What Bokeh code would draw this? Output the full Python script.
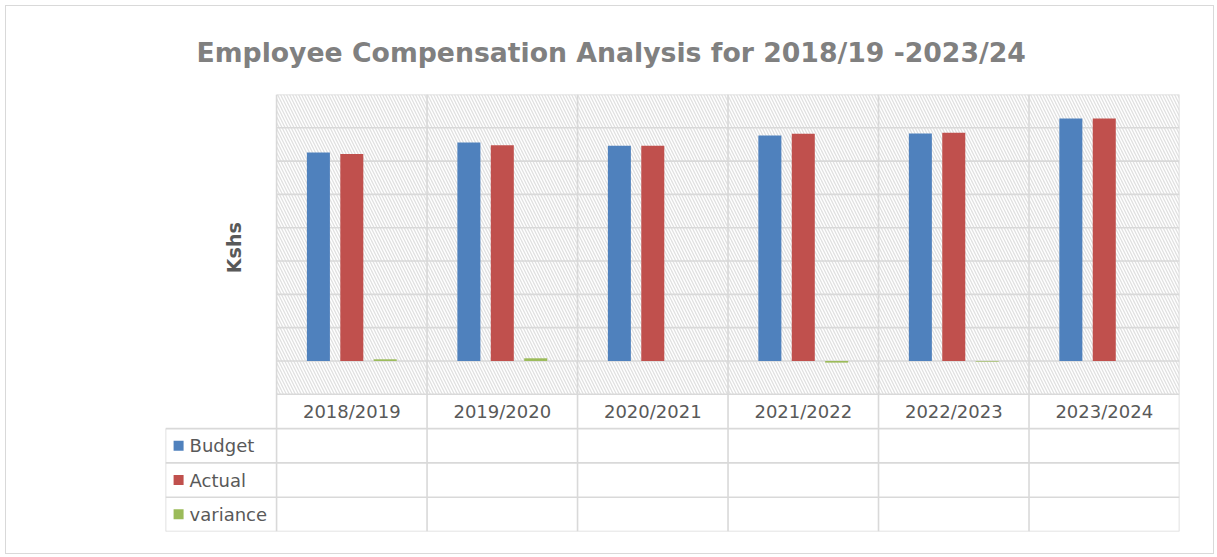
import math
from bokeh.plotting import figure
from bokeh.models import ColumnDataSource, Range1d
from bokeh.transform import dodge
from bokeh.core.properties import value
from bokeh.embed import file_html
from bokeh.resources import INLINE

# ---- data (Kshs, billions) ----
years = ["2018/2019", "2019/2020", "2020/2021", "2021/2022", "2022/2023", "2023/2024"]
budget = [6.26, 6.56, 6.46, 6.77, 6.83, 7.28]
actual = [6.21, 6.48, 6.46, 6.82, 6.85, 7.28]
variance = [0.05, 0.08, 0.0, -0.05, -0.02, 0.0]
series_names = ["Budget", "Actual", "variance"]
series_colors = ["#4F81BD", "#C0504D", "#9BBB59"]
grid_values = list(range(-1, 9))

# ---- layout parameters ----
y_min, y_max = -1, 8
row_h = 1.03
n_rows = 1 + len(series_names)
table_bottom = y_min - n_rows * row_h
legend_w = 0.738
n = len(years)
GRID = "#d9d9d9"
TXT = "#595959"

W, H = 1209, 549
p = figure(width=W, height=H,
           x_range=Range1d(-legend_w, n), y_range=Range1d(table_bottom, y_max),
           output_backend="svg", toolbar_location=None,
           min_border_left=159, min_border_right=36, min_border_top=88, min_border_bottom=24)
p.xaxis.visible = False
p.yaxis.visible = False
p.xgrid.visible = False
p.ygrid.visible = False
p.outline_line_color = None
p.background_fill_color = "white"
p.border_fill_color = "white"
p.styles = {"border": "1px solid #d9d9d9", "margin-left": "5px", "margin-top": "5px"}

p.title.text = "Employee Compensation Analysis for 2018/19 -2023/24"
p.title.text_font = "DejaVu Sans"
p.title.text_font_size = "26.7px"
p.title.text_font_style = "bold"
p.title.text_color = "#808080"
p.title.align = "left"
p.title.offset = 31
p.title.standoff = 54

xc = [i + 0.5 for i in range(n)]
src = ColumnDataSource(dict(xc=xc, years=years, budget=budget, actual=actual, variance=variance))

# hatched plot area
p.quad(left=[0], right=[n], bottom=[y_min], top=[y_max], fill_color="white", line_color=None,
       hatch_pattern="\\", hatch_color="#e0e0e0", hatch_scale=6, hatch_weight=1.3)

# horizontal gridlines in the plot area
p.segment(x0=[0] * len(grid_values), x1=[n] * len(grid_values), y0=grid_values, y1=grid_values,
          line_color=GRID, line_width=1.6)
# vertical category lines (plot + table)
p.segment(x0=list(range(n + 1)), x1=list(range(n + 1)), y0=[y_max] * (n + 1), y1=[table_bottom] * (n + 1),
          line_color=GRID, line_width=1.6)
# table rows
row_lines = [y_min - k * row_h for k in range(1, n_rows + 1)]
p.segment(x0=[-legend_w] * len(row_lines), x1=[n] * len(row_lines), y0=row_lines, y1=row_lines,
          line_color=GRID, line_width=1.6)
p.segment(x0=[-legend_w], x1=[-legend_w], y0=[y_min - row_h], y1=[table_bottom],
          line_color=GRID, line_width=1.6)

# bars
bw = 0.153
offs = [-0.222, 0.0, 0.222]
for key, off, col in zip(["budget", "actual", "variance"], offs, series_colors):
    p.vbar(x=dodge("xc", off), top=key, bottom=0, width=bw, source=src,
           fill_color=col, line_color=None)

# category labels row
p.text(x="xc", y=y_min - row_h / 2, text="years", source=src,
       text_align="center", text_baseline="middle", text_font=value("DejaVu Sans"),
       text_font_size="18px", text_color=TXT)

# legend column
row_centers = [y_min - (k + 1.5) * row_h for k in range(len(series_names))]
p.scatter(x=[-legend_w + 0.087] * len(series_names), y=row_centers, marker="square", size=10,
          fill_color=series_colors, line_color=None)
p.text(x=[-legend_w + 0.16] * len(series_names), y=row_centers, text=series_names,
       text_align="left", text_baseline="middle", text_font=value("DejaVu Sans"),
       text_font_size="18px", text_color=TXT)

# y axis title
p.text(x=[-0.286], y=[3.4], text=["Kshs"], angle=math.pi / 2, text_align="center",
       text_baseline="middle", text_font=value("DejaVu Sans"), text_font_size="19px",
       text_font_style="bold", text_color=TXT)

open("out.html", "w").write(file_html(p, INLINE))
